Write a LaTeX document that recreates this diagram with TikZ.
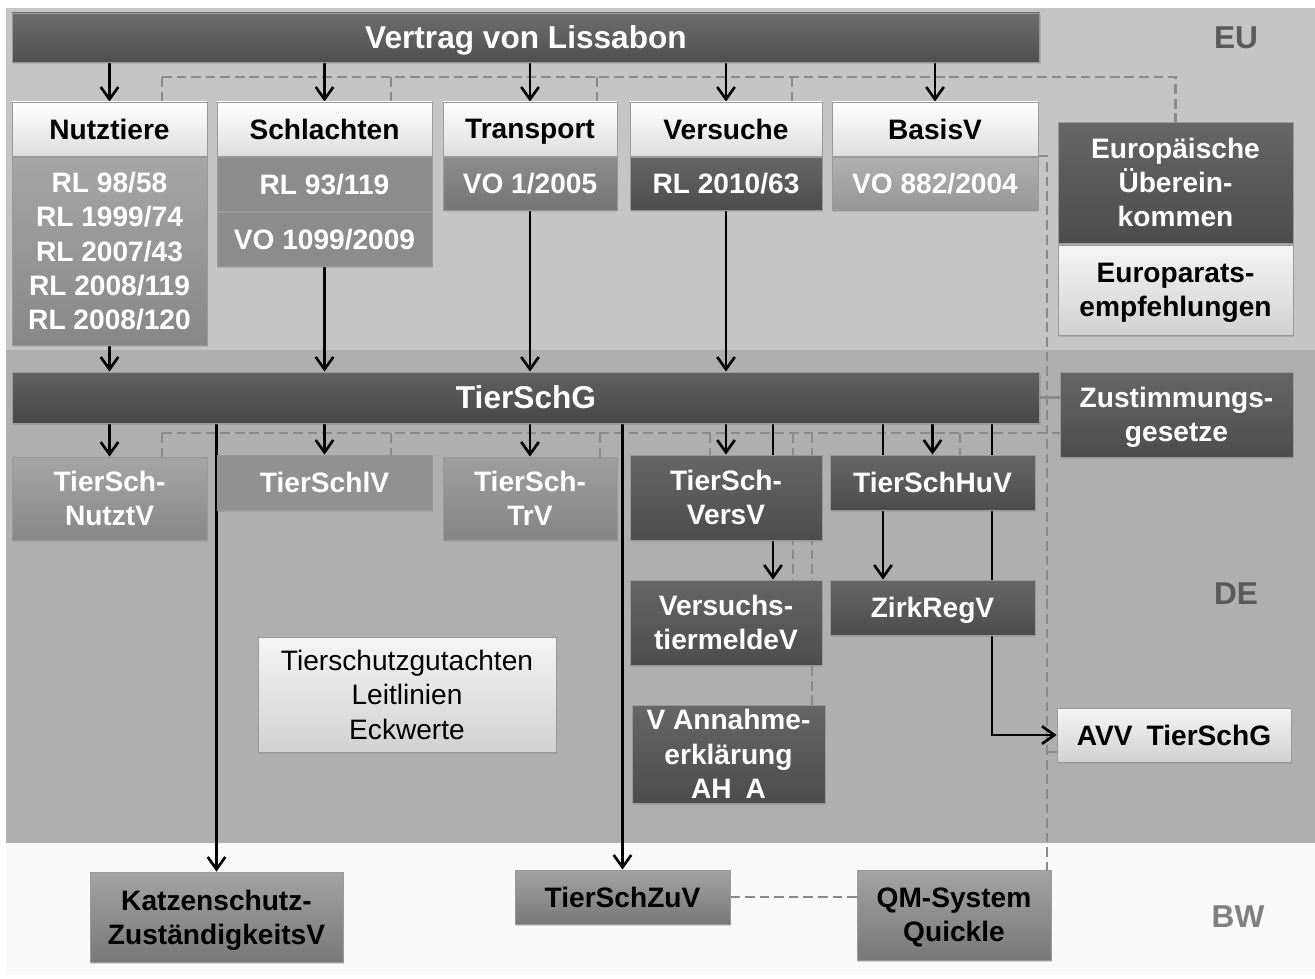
\documentclass[tikz,border=0pt]{standalone}
\usepackage{fontspec}
\setmainfont{Liberation Sans}
\usetikzlibrary{arrows.meta,shadows}

\definecolor{bandEU}{HTML}{C5C5C5}
\definecolor{bandDE}{HTML}{AFAFAF}
\definecolor{bandBW}{HTML}{F9F9F9}
\definecolor{dashgray}{HTML}{8A8A8A}
\definecolor{labelgray}{HTML}{5A5A5A}

\pgfdeclarelayer{bands}
\pgfdeclarelayer{wires}
\pgfsetlayers{bands,wires,main}

\tikzset{
  box/.style={draw=black!40, line width=0.5pt, inner sep=2pt, align=center, text depth=0pt,
    font=\fontsize{16}{19.5}\selectfont\bfseries,
    drop shadow={shadow xshift=0.7pt, shadow yshift=-0.9pt, opacity=0.3}},
  headbox/.style={box, top color=white, bottom color=black!13, text=black, minimum height=1.08cm},
  darkbox/.style={box, top color=black!60, bottom color=black!70, text=white},
  midbox/.style={box, top color=black!35, bottom color=black!47, text=white},
  flatbox/.style={box, fill=black!45, text=white},
  bwbox/.style={box, top color=black!36, bottom color=black!53, text=black},
  lightbox/.style={box, top color=black!4, bottom color=black!18, text=black},
  titlebar/.style={box, top color=black!57, bottom color=black!69, text=white,
    font=\fontsize{18}{20}\selectfont\bfseries, minimum width=20.56cm},
  levellabel/.style={font=\fontsize{18}{20}\selectfont\bfseries, text=labelgray},
  arr/.style={line width=1.5pt, -{Straight Barb[length=7pt,width=10pt]}},
  dashline/.style={draw=dashgray, line width=1.2pt, dash pattern=on 5.5pt off 2.8pt},
}

\begin{document}
\begin{tikzpicture}[x=0.02cm, y=-0.02cm]
  \useasboundingbox (0,0) rectangle (1315,979);

  % Levels
  \begin{pgfonlayer}{bands}
    \fill[white] (0,0) rectangle (1315,979);
    \fill[bandEU] (6,8) rectangle (1315,350);
    \fill[bandDE] (6,350) rectangle (1315,843);
    \fill[bandBW] (6,843) rectangle (1315,975);
  \end{pgfonlayer}
  \node[levellabel] (eu) at (1236,38) {EU};
  \node[levellabel] (de) at (1236,594) {DE};
  \node[levellabel, text=black!50] (bw) at (1238,917) {BW};

  % EU
  \node[titlebar, minimum height=0.98cm] (lisbon) at (526,37.5) {Vertrag von Lissabon};
  \foreach \n/\x/\w/\t in {nutz/109.5/3.9/Nutztiere, schl/324.5/4.3/Schlachten,
      trans/530/3.48/Transport, vers/726/3.84/Versuche, basis/935/4.12/BasisV} {
    \node[headbox, minimum width=\w cm] (\n) at (\x,129) {\t};
  }
  \node[midbox, minimum width=3.9cm, minimum height=3.76cm] (nutzrl) at (109.5,251)
    {RL 98/58\\RL 1999/74\\RL 2007/43\\RL 2008/119\\RL 2008/120};
  \node[flatbox, minimum width=4.3cm, minimum height=1.08cm] (schlrl) at (324.5,184) {RL 93/119};
  \node[flatbox, minimum width=4.3cm, minimum height=1.08cm] (schlvo) at (324.5,239) {VO 1099/2009};
  \node[box, top color=black!45, bottom color=black!54, text=white,
    minimum width=3.48cm, minimum height=1.06cm] (transvo) at (530,183.5) {VO 1/2005};
  \node[darkbox, minimum width=3.84cm, minimum height=1.06cm] (versrl) at (726,183.5) {RL 2010/63};
  \node[box, top color=black!31, bottom color=black!41, text=white,
    minimum width=4.12cm, minimum height=1.06cm] (basisvo) at (935,183.5) {VO 882/2004};
  \node[darkbox, minimum width=4.7cm, minimum height=2.42cm] (euro) at (1175.5,182.5)
    {Europäische\\Überein-\\kommen};
  \node[lightbox, minimum width=4.7cm, minimum height=1.8cm] (europarat) at (1175.5,290)
    {Europarats-\\empfehlungen};

  % DE
  \node[titlebar, top color=black!62, bottom color=black!72, minimum height=1.02cm] (tsg) at (526,397.5) {TierSchG};
  \node[darkbox, minimum width=4.66cm, minimum height=1.7cm] (zust) at (1176.5,414.5) {Zustimmungs-\\gesetze};
  \node[midbox, minimum width=3.9cm, minimum height=1.66cm] (nutztv) at (109.5,498.5) {TierSch-\\NutztV};
  \node[flatbox, fill=black!43, minimum width=4.3cm, minimum height=1.1cm] (schliv) at (324.5,482.5) {TierSchlV};
  \node[midbox, top color=black!38, bottom color=black!48, minimum width=3.48cm, minimum height=1.66cm] (trv) at (530,498.5) {TierSch-\\TrV};
  \node[darkbox, minimum width=3.84cm, minimum height=1.7cm] (versv) at (726,497.5) {TierSch-\\VersV};
  \node[darkbox, minimum width=4.1cm, minimum height=1.1cm] (huv) at (932.5,482.5) {TierSchHuV};
  \node[darkbox, minimum width=3.84cm, minimum height=1.7cm] (meldev) at (726,622.5) {Versuchs-\\tiermeldeV};
  \node[darkbox, minimum width=4.1cm, minimum height=1.1cm] (zirk) at (932.5,607.5) {ZirkRegV};
  \node[darkbox, minimum width=3.86cm, minimum height=1.96cm] (annahme) at (728.5,754)
    {V Annahme-\\erklärung\\AH\enspace A};
  \node[lightbox, font=\fontsize{16}{19.6}\selectfont, minimum width=5.96cm, minimum height=2.3cm] (gutacht) at (407,694.5)
    {Tierschutzgutachten\\Leitlinien\\Eckwerte};
  \node[lightbox, minimum width=4.68cm, minimum height=1.08cm] (avv) at (1174,735) {AVV\enspace TierSchG};

  % BW
  \node[bwbox, minimum width=5.06cm, minimum height=1.8cm] (katz) at (216.5,917) {Katzenschutz-\\ZuständigkeitsV};
  \node[bwbox, minimum width=4.3cm, minimum height=1.08cm] (zuv) at (622.5,897) {TierSchZuV};
  \node[bwbox, minimum width=3.88cm, minimum height=1.8cm] (qm) at (954,915) {QM-System\\Quickle};

  \coordinate (vm) at (773,0);
  \coordinate (vz) at (883,0);
  \coordinate (va) at (992,0);

  \begin{pgfonlayer}{wires}
    % Dashed links
    \draw[dashline] (162,77) -| (euro.north);
    \foreach \x in {162,391,597,792}
      \draw[dashline] (\x,77) -- (\x,77 |- nutz.north);
    \draw[dashline] (162,433) -- (162,433 -| zust.west);
    \foreach \x/\n in {162/nutztv, 391/schliv, 600/trv, 710/versv, 960/huv, 793/meldev, 812/annahme}
      \draw[dashline] (\x,433) -- (\x,433 |- \n.north);
    \draw[dashline] (basis.south east) -- ++(9,0) coordinate (vr) -- (vr |- qm.north);
    \draw[dashline] (vr |- 0,752) -- (avv.west |- 0,752);
    \draw[dashline] (zuv.east) -- (zuv.east -| qm.west);
    \draw[draw=dashgray, line width=1.2pt] (tsg.east) -- (tsg.east -| zust.west);

    % EU arrows
    \foreach \n in {nutz,schl,trans,vers,basis}
      \draw[arr] (lisbon.south -| \n.north) -- (\n.north);
    \foreach \n in {nutzrl,schlvo,transvo,versrl}
      \draw[arr] (\n.south) -- (tsg.north -| \n.south);

    % DE arrows
    \foreach \n in {nutztv,schliv,trv,versv,huv,katz,zuv}
      \draw[arr] (tsg.south -| \n.north) -- (\n.north);
    \draw[arr] (tsg.south -| vm) -- (meldev.north -| vm);
    \draw[arr] (tsg.south -| vz) -- (zirk.north -| vz);
    \draw[arr] (tsg.south -| va) |- (avv.west);
  \end{pgfonlayer}
\end{tikzpicture}
\end{document}
